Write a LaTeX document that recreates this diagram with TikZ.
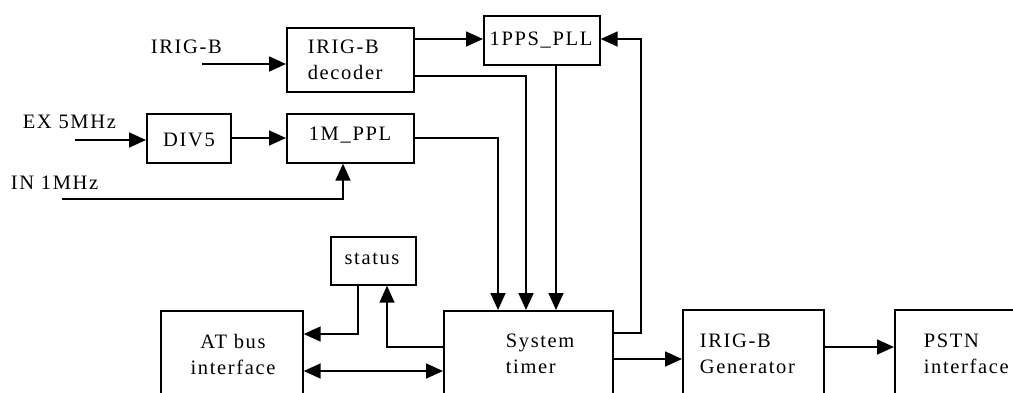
\documentclass[tikz,border=0pt]{standalone}
\usepackage{fontspec}
\setmainfont{Liberation Serif}[LetterSpace=8]
\usetikzlibrary{arrows.meta}
\begin{document}
\begin{tikzpicture}[x=1pt,y=-1pt,
  line width=1.7pt,
  box/.style={draw, line width=1.7pt, rectangle, inner sep=0pt, anchor=north west},
  lbl/.style={font=\fontsize{20.5}{26}\selectfont, inner sep=0pt},
  arr/.style={-{Triangle[length=17pt,width=15pt]}},
  darr/.style={{Triangle[length=17pt,width=15pt]}-{Triangle[length=17pt,width=15pt]}}]
\clip (0,0) rectangle (1013,392);
\useasboundingbox (0,0) rectangle (1013,392);
% boxes
\node[box, minimum width=127pt, minimum height=64pt] (dec) at (286,27) {};
\node[lbl, align=left, anchor=west] (dect) at (307,60) {IRIG-B\\decoder};
\node[box, minimum width=116pt, minimum height=49pt] (pps) at (483,15) {};
\node[lbl] (ppst) at (541,40) {1PPS\_PLL};
\node[box, minimum width=84pt, minimum height=49pt] (div) at (146,113) {};
\node[lbl] (divt) at (189,140) {DIV5};
\node[box, minimum width=127pt, minimum height=49pt] (mppl) at (286,113) {};
\node[lbl] (mpplt) at (350,135) {1M\_PPL};
\node[box, minimum width=85pt, minimum height=48pt] (status) at (330,236) {};
\node[lbl] (statust) at (372,259) {status};
\node[box, minimum width=142pt, minimum height=120pt] (atbus) at (160,310) {};
\node[lbl, align=center] (atbust) at (233,354) {AT bus\\interface};
\node[box, minimum width=169pt, minimum height=120pt] (timer) at (443,310) {};
\node[lbl, align=left, anchor=west] (timert) at (505,354) {System\\timer};
\node[box, minimum width=141pt, minimum height=120pt] (gen) at (682,309) {};
\node[lbl, align=left, anchor=west] (gent) at (699,354) {IRIG-B\\Generator};
\node[box, minimum width=160pt, minimum height=120pt] (pstn) at (894,309) {};
\node[lbl, align=left, anchor=west] (pstnt) at (923,354) {PSTN\\interface};
% input labels
\node[lbl, anchor=west] (irigin) at (150,47) {IRIG-B};
\node[lbl, anchor=west] (exin) at (22,122) {EX 5MHz};
\node[lbl, anchor=west] (inin) at (10,183) {IN 1MHz};
\coordinate (c1) at (202,64);
\coordinate (c2) at (75,140);
\coordinate (c3) at (62,199);
% connectors
\draw[arr] (c1) -- (c1 -| dec.west);
\draw[arr] (c2) -- (c2 -| div.west);
\draw[arr] (div.east |- 0,138) -- (mppl.west |- 0,138);
\draw[arr] (c3) -| (343,0 |- mppl.south);
\draw[arr] (dec.east |- 0,39) -- (pps.west |- 0,39);
\draw[arr] (dec.east |- 0,76) -| (526,0 |- timer.north);
\draw[arr] (mppl.east |- 0,138) -| (498,0 |- timer.north);
\draw[arr] (pps.south -| 556,0) -- (556,0 |- timer.north);
\draw[arr] (timer.east |- 0,333) -- (641,333) -- (641,39) -- (pps.east |- 0,39);
\draw[arr] (timer.east |- 0,359) -- (gen.west |- 0,359);
\draw[arr] (gen.east |- 0,347) -- (pstn.west |- 0,347);
\draw[arr] (358,0 |- status.south) |- (atbus.east |- 0,334);
\draw[arr] (timer.west |- 0,347) -| (387,0 |- status.south);
\draw[darr] (atbus.east |- 0,371) -- (timer.west |- 0,371);
\end{tikzpicture}
\end{document}
